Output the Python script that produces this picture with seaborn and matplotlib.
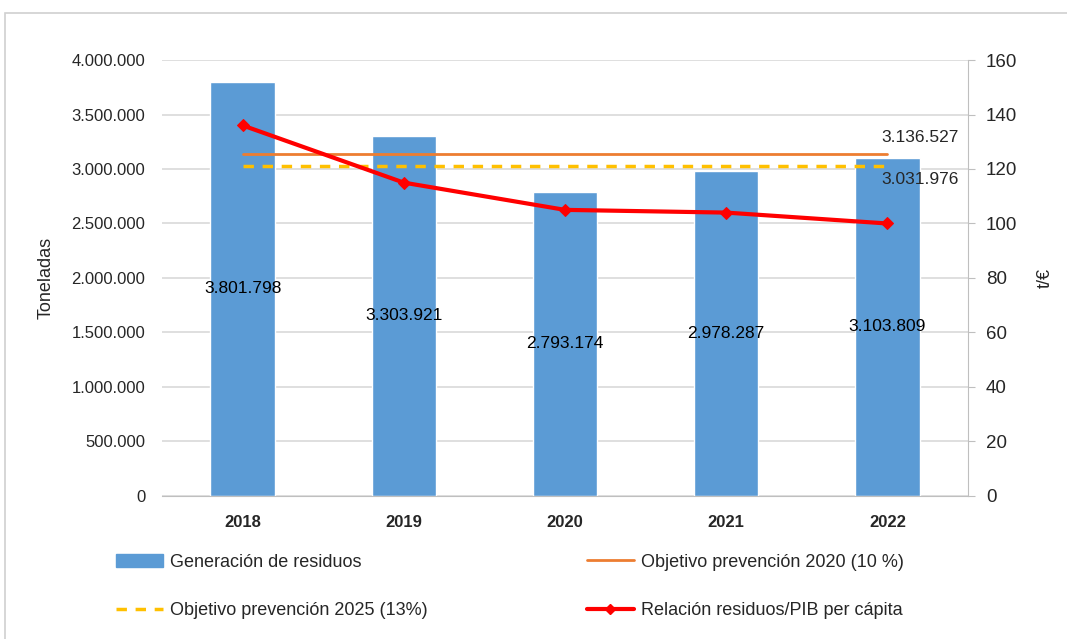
import matplotlib
matplotlib.use("Agg")
import matplotlib.pyplot as plt
import seaborn as sns
import pandas as pd
from matplotlib.lines import Line2D
from matplotlib.patches import Patch, Rectangle

years = ["2018", "2019", "2020", "2021", "2022"]
residuos = [3801798, 3303921, 2793174, 2978287, 3103809]
relacion_pib = [136, 115, 105, 104, 100]
objetivo_2020 = 3136527
objetivo_2025 = 3031976

def miles(v):
    return f"{int(v):,}".replace(",", ".")

sns.set_style("white")
plt.rcParams['font.family'] = ['Liberation Sans', 'DejaVu Sans']

df = pd.DataFrame({"year": years, "residuos": residuos, "relacion": relacion_pib})

fig = plt.figure(figsize=(10.67, 6.39), dpi=100)
fig.patches.append(Rectangle((0.005, -0.01), 1.1, 0.99, transform=fig.transFigure,
                             fill=False, edgecolor="#d0d0d0", linewidth=1.2))
ax = fig.add_axes([0.1518, 0.2238, 0.7554, 0.6823])

bar_col = "#5b9bd5"
sns.barplot(data=df, x="year", y="residuos", color=bar_col, width=0.4,
            saturation=1, ax=ax, zorder=2)
ax.set_ylim(0, 4000000)
ax.set_xlim(-0.5, 4.5)
ax.set_yticks(range(0, 4000001, 500000))
ax.set_yticklabels([miles(v) for v in range(0, 4000001, 500000)], fontsize=12)
ax.yaxis.grid(True, color="#d9d9d9", linewidth=1.2, zorder=0)
ax.set_axisbelow(True)
ax.set_xlabel("")
ax.set_ylabel("Toneladas", fontsize=13, labelpad=12)
ax.set_xticks(range(len(years)))
ax.set_xticklabels(years, fontsize=12, fontweight="bold")
ax.tick_params(axis="y", length=0, pad=12)
ax.tick_params(axis="x", length=0, pad=14)
for s in ["top", "left", "right"]:
    ax.spines[s].set_visible(False)
ax.spines["bottom"].set_color("#bfbfbf")

for i, v in enumerate(residuos):
    ax.text(i, v / 2, miles(v), ha="center", va="center", fontsize=12.5, color="black", zorder=5)

ax.plot([0, 4], [objetivo_2020] * 2, color="#ed7d31", linewidth=2, zorder=3)
ax.plot([0, 4], [objetivo_2025] * 2, color="#ffc000", linewidth=2.5, linestyle=(0, (3, 2.5)), zorder=3)
ax.text(4.2, objetivo_2020 + 150000, miles(objetivo_2020), ha="center", va="center", fontsize=12.5, zorder=5)
ax.text(4.2, objetivo_2025 - 130000, miles(objetivo_2025), ha="center", va="center", fontsize=12.5, zorder=5)

ax2 = ax.twinx()
ax2.set_position([0.1518, 0.2238, 0.7554, 0.6823])
sns.lineplot(data=df, x="year", y="relacion", color="#ff0000", linewidth=3,
             marker="D", markersize=6, markeredgecolor="#ff0000", ax=ax2, zorder=4)
ax2.set_ylim(0, 160)
ax2.set_yticks(range(0, 161, 20))
ax2.set_yticklabels([str(v) for v in range(0, 161, 20)], fontsize=13.5)
ax2.set_ylabel("t/€", fontsize=13, labelpad=14, rotation=90)
ax2.set_xlabel("")
for s in ["top", "left", "bottom"]:
    ax2.spines[s].set_visible(False)
ax2.spines["right"].set_color("#bfbfbf")
ax2.tick_params(axis="y", length=5, color="#bfbfbf", pad=8)

handles = [
    Patch(facecolor=bar_col, edgecolor=bar_col),
    Line2D([], [], color="#ffc000", linewidth=2.5, linestyle=(0, (3, 2.5))),
    Line2D([], [], color="#ed7d31", linewidth=2),
    Line2D([], [], color="#ff0000", linewidth=3, marker="D", markersize=5),
]
labels = ["Generación de residuos", "Objetivo prevención 2025 (13%)",
          "Objetivo prevención 2020 (10 %)", "Relación residuos/PIB per cápita"]
fig.legend(handles, labels, ncol=2, loc="upper left", bbox_to_anchor=(0.102, 0.145),
           frameon=False, fontsize=13, handlelength=2.6, handletextpad=0.4,
           columnspacing=8.8, labelspacing=1.75, borderaxespad=0)

fig.savefig("out.png", dpi=100)
